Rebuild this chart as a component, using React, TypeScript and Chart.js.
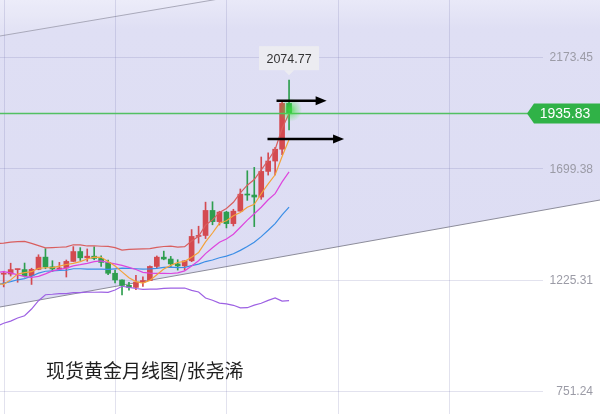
import React, { useEffect, useRef } from "react";
import { Chart, registerables } from "chart.js";

Chart.register(...registerables);

// Monthly spot gold candles, Feb 2017 (just off the left edge) to Aug 2020
const months = [
  "2017-02", "2017-03", "2017-04", "2017-05", "2017-06", "2017-07", "2017-08", "2017-09", "2017-10", "2017-11", "2017-12",
  "2018-01", "2018-02", "2018-03", "2018-04", "2018-05", "2018-06", "2018-07", "2018-08", "2018-09", "2018-10", "2018-11", "2018-12",
  "2019-01", "2019-02", "2019-03", "2019-04", "2019-05", "2019-06", "2019-07", "2019-08", "2019-09", "2019-10", "2019-11", "2019-12",
  "2020-01", "2020-02", "2020-03", "2020-04", "2020-05", "2020-06", "2020-07", "2020-08",
];
const opens = [
  1210.8, 1248.5, 1249.2, 1268.2, 1268.3, 1241.6, 1269.1, 1321.3, 1280.0, 1270.9, 1275.1,
  1303.1, 1345.1, 1318.4, 1325.3, 1315.7, 1298.9, 1252.6, 1224.1, 1201.1, 1192.4, 1215.0, 1221.7,
  1281.7, 1321.2, 1313.1, 1292.3, 1283.8, 1305.6, 1409.4, 1413.5, 1520.1, 1472.5, 1513.0, 1464.0,
  1517.0, 1589.2, 1585.7, 1577.2, 1686.3, 1730.5, 1780.9, 1975.8,
];
const highs = [
  1264.0, 1261.1, 1295.4, 1270.2, 1296.1, 1274.0, 1331.4, 1357.6, 1306.0, 1299.0, 1309.0,
  1366.1, 1361.7, 1356.2, 1365.3, 1326.3, 1309.1, 1265.9, 1225.0, 1214.2, 1243.4, 1237.3, 1284.7,
  1326.3, 1346.8, 1324.3, 1310.3, 1306.0, 1438.6, 1452.9, 1555.4, 1557.1, 1516.7, 1516.1, 1525.1,
  1611.4, 1689.0, 1703.4, 1747.7, 1765.3, 1789.0, 1983.7, 2074.77,
];
const lows = [
  1200.0, 1194.5, 1240.8, 1214.3, 1236.5, 1204.9, 1267.3, 1271.9, 1260.6, 1264.1, 1236.6,
  1302.6, 1307.0, 1303.6, 1310.1, 1281.4, 1246.2, 1211.1, 1160.4, 1180.6, 1182.6, 1196.2, 1221.4,
  1275.9, 1309.9, 1280.8, 1266.2, 1266.1, 1301.9, 1381.0, 1400.3, 1459.0, 1458.0, 1445.7, 1454.0,
  1517.0, 1563.0, 1451.2, 1567.5, 1670.6, 1671.0, 1757.5, 1863.2,
];
const closes = [
  1248.5, 1249.2, 1268.2, 1268.3, 1241.6, 1269.1, 1321.3, 1280.0, 1270.9, 1275.1, 1303.1,
  1345.1, 1318.4, 1325.3, 1315.7, 1298.9, 1252.6, 1224.1, 1201.1, 1192.4, 1215.0, 1221.7, 1281.7,
  1321.2, 1313.1, 1292.3, 1283.8, 1305.6, 1409.4, 1413.5, 1520.1, 1472.5, 1513.0, 1464.0, 1517.0,
  1589.2, 1585.7, 1577.2, 1686.3, 1730.5, 1780.9, 1975.8, 1935.83,
];

// Indicator lines as read/estimated from the chart
const ma5 = [
  1210, 1205.4, 1224.4, 1248.8, 1255, 1259.2, 1273.6, 1276, 1276.6, 1283.2, 1290,
  1294.8, 1302.4, 1313.2, 1321.4, 1320.6, 1302.2, 1283.4, 1258.6, 1233.8, 1217, 1210.8, 1222.4,
  1246.4, 1270.6, 1286, 1298.4, 1303.2, 1320.8, 1340.8, 1386.4, 1424, 1465.4, 1476.4, 1497.2,
  1511, 1533.8, 1546.6, 1591, 1633.6, 1672, 1750, 1821.8,
];
const ma10 = [
  1256.1, 1259.6, 1254.3, 1246, 1239.3, 1234.6, 1239.5, 1250.2, 1262.7, 1269.1, 1274.6,
  1284.2, 1289.2, 1294.9, 1302.3, 1305.3, 1298.5, 1292.9, 1285.9, 1277.6, 1268.8, 1256.5, 1252.9,
  1252.5, 1252.2, 1251.5, 1254.6, 1262.8, 1283.6, 1305.7, 1336.2, 1361.2, 1384.3, 1398.6, 1419,
  1448.7, 1478.9, 1506, 1533.7, 1565.4, 1591.5, 1641.9, 1684.2,
];
const ma20 = [
  1202.6, 1210.3, 1217.1, 1224.8, 1229.8, 1240.0, 1253.0, 1261.1, 1262.7, 1264.8, 1265.4,
  1271.9, 1271.8, 1270.5, 1270.8, 1270.0, 1269.0, 1271.6, 1274.3, 1273.4, 1271.7, 1270.4, 1271.1,
  1273.7, 1277.3, 1278.4, 1276.6, 1277.9, 1284.8, 1291.7, 1302.5, 1308.9, 1318.6, 1325.6, 1335.6,
  1350.1, 1366.8, 1384.4, 1408.7, 1435.6, 1463.9, 1501.6, 1534.3,
];
const bollUpper = [
  1379.0, 1380.6, 1385.2, 1387.4, 1388.0, 1379.6, 1370.2, 1361.0, 1362.1, 1363.4, 1364.7,
  1374.0, 1373.6, 1368.8, 1369.8, 1367.6, 1367.0, 1361.7, 1351.4, 1353.9, 1355.6, 1356.5, 1357.3,
  1362.7, 1366.5, 1367.8, 1363.9, 1366.1, 1389.8, 1410.4, 1457.6, 1479.9, 1511.5, 1528.6, 1555.0,
  1594.8, 1627.5, 1651.8, 1692.6, 1733.9, 1780.0, 1869.0, 1932.8,
];
const bollLower = [
  1026.2, 1040.0, 1049.0, 1062.1, 1071.5, 1100.3, 1135.7, 1161.2, 1163.3, 1166.2, 1166.1,
  1169.8, 1169.9, 1172.1, 1171.8, 1172.3, 1171.0, 1181.4, 1197.2, 1192.8, 1187.8, 1184.2, 1184.8,
  1184.7, 1188.0, 1189.0, 1189.2, 1189.6, 1179.7, 1172.9, 1147.4, 1137.8, 1125.7, 1122.5, 1116.2,
  1105.4, 1106.0, 1117.0, 1124.7, 1137.2, 1147.7, 1134.1, 1135.7,
];

// Rising channel (two parallel trend lines), anchored at month positions
const channelX = [-1, 86];
const channelLower = [1106.5, 1566.3];
const channelUpper = [2260.6, 2696.4];

// Hand-drawn arrows: start month, end month, price
const arrowFrom = [39.2, 37.9];
const arrowTo = [46.4, 48.9];
const arrowPrice = [1987.4, 1824.3];

// Axis
const yTicks = [2173.45, 1699.38, 1225.31, 751.24];
const xGridMonths = [0, 16, 32, 48, 64];
const titleText = "现货黄金月线图/张尧浠";

const UP = "#d44a50";
const DOWN = "#2e9e4f";

export default function App() {
  const ref = useRef<HTMLCanvasElement | null>(null);

  useEffect(() => {
    if (!ref.current) return;
    const pos = months.map((_, i) => i - 1);
    const candleColors = closes.map((c, i) => (c >= opens[i] ? UP : DOWN));
    const last = closes.length - 1;

    const lavender = (ctx: any) => {
      const chart = ctx.chart;
      const area = chart.chartArea;
      if (!area) return "rgb(222,222,243)";
      const g = chart.ctx.createLinearGradient(0, area.top, 0, area.bottom);
      g.addColorStop(0, "rgb(233,233,248)");
      g.addColorStop(0.07, "rgb(223,223,244)");
      g.addColorStop(1, "rgb(220,220,243)");
      return g;
    };

    const linePts = (arr: number[]) => arr.map((v, i) => ({ x: pos[i], y: v }));
    const mkLine = (arr: number[], color: string, order: number) => ({
      type: "line" as const,
      data: linePts(arr),
      borderColor: color,
      borderWidth: 1.2,
      pointRadius: 0,
      tension: 0,
      fill: false,
      order,
    });

    const gridPlugin = {
      id: "gridAndLabels",
      beforeDraw(chart: any) {
        const c = chart.ctx;
        c.save();
        c.fillStyle = "#ffffff";
        c.fillRect(0, 0, chart.width, chart.height);
        c.restore();
      },
      afterDatasetDraw(chart: any, args: any) {
        if (args.index !== 1) return;
        const c = chart.ctx;
        const area = chart.chartArea;
        const xs = chart.scales.x;
        const ys = chart.scales.y;
        c.save();
        c.lineWidth = 1;
        c.strokeStyle = "rgba(110,110,170,0.2)";
        xGridMonths.forEach((m) => {
          const x = Math.round(xs.getPixelForValue(m)) + 0.5;
          c.beginPath();
          c.moveTo(x, area.top);
          c.lineTo(x, area.bottom);
          c.stroke();
        });
        yTicks.forEach((t) => {
          const y = Math.round(ys.getPixelForValue(t)) + 0.5;
          c.beginPath();
          c.moveTo(area.left, y);
          c.lineTo(area.right - 57, y);
          c.stroke();
        });
        c.fillStyle = "#9b9ba6";
        c.font = "12px 'Liberation Sans', Arial, sans-serif";
        c.textAlign = "right";
        c.textBaseline = "middle";
        yTicks.forEach((t) => {
          c.fillText(t.toFixed(2), area.right - 7, ys.getPixelForValue(t) + 1);
        });
        c.restore();
      },
      afterDatasetsDraw(chart: any) {
        const c = chart.ctx;
        const area = chart.chartArea;
        const xs = chart.scales.x;
        const ys = chart.scales.y;
        const lastX = xs.getPixelForValue(pos[last]);
        const lastY = ys.getPixelForValue(closes[last]);
        c.save();

        // current price line
        const py = Math.round(lastY) + 0.5;
        c.strokeStyle = "rgb(82,192,98)";
        c.lineWidth = 1.6;
        c.beginPath();
        c.moveTo(area.left, py);
        c.lineTo(area.right - 70, py);
        c.stroke();

        // glow on last candle
        const g = c.createRadialGradient(lastX + 1, lastY - 3, 0, lastX + 1, lastY - 3, 12);
        g.addColorStop(0, "rgba(60,225,60,0.85)");
        g.addColorStop(0.5, "rgba(60,225,60,0.35)");
        g.addColorStop(1, "rgba(60,225,60,0)");
        c.fillStyle = g;
        c.beginPath();
        c.arc(lastX + 1, lastY - 3, 12, 0, Math.PI * 2);
        c.fill();

        // price tag
        const tipX = area.right - 73;
        c.fillStyle = "#30b247";
        c.beginPath();
        c.moveTo(tipX, py);
        c.lineTo(tipX + 7, py - 10);
        c.lineTo(area.right, py - 10);
        c.lineTo(area.right, py + 10);
        c.lineTo(tipX + 7, py + 10);
        c.closePath();
        c.fill();
        c.fillStyle = "#ffffff";
        c.font = "14px 'Liberation Sans', Arial, sans-serif";
        c.textAlign = "center";
        c.textBaseline = "middle";
        c.fillText(closes[last].toFixed(2), tipX + 38, py + 1);

        // high label
        const hy = ys.getPixelForValue(highs[last]);
        const bw = 60;
        const bh = 24;
        const bottom = hy - 10;
        c.fillStyle = "#ececf1";
        c.fillRect(lastX - bw / 2, bottom - bh, bw, bh);
        c.beginPath();
        c.moveTo(lastX - 5, bottom);
        c.lineTo(lastX + 5, bottom);
        c.lineTo(lastX, bottom + 5);
        c.closePath();
        c.fill();
        c.fillStyle = "#333333";
        c.font = "12.5px 'Liberation Sans', Arial, sans-serif";
        c.fillText(highs[last].toFixed(2), lastX, bottom - bh / 2 + 1);

        // arrows
        c.strokeStyle = "#000000";
        c.fillStyle = "#000000";
        c.lineWidth = 2.4;
        arrowPrice.forEach((p, i) => {
          const y = ys.getPixelForValue(p);
          const x0 = xs.getPixelForValue(arrowFrom[i]);
          const x1 = xs.getPixelForValue(arrowTo[i]);
          c.beginPath();
          c.moveTo(x0, y);
          c.lineTo(x1 - 9, y);
          c.stroke();
          c.beginPath();
          c.moveTo(x1, y);
          c.lineTo(x1 - 11, y - 4.5);
          c.lineTo(x1 - 11, y + 4.5);
          c.closePath();
          c.fill();
        });
        c.restore();
      },
    };

    const chart = new Chart(ref.current, {
      type: "bar",
      data: {
        datasets: [
          {
            type: "line",
            data: channelX.map((x, i) => ({ x, y: channelLower[i] })),
            borderColor: "#8d8d9b",
            borderWidth: 1,
            pointRadius: 0,
            fill: "end",
            backgroundColor: lavender,
            order: 20,
          } as any,
          {
            type: "line",
            data: channelX.map((x, i) => ({ x, y: channelUpper[i] })),
            borderColor: "#a9a9ba",
            borderWidth: 1,
            pointRadius: 0,
            fill: "end",
            backgroundColor: "rgba(255,255,255,0.15)",
            order: 19,
          } as any,
          {
            type: "bar",
            data: months.map((_, i) => ({ x: pos[i], y: [lows[i], highs[i]] })),
            backgroundColor: candleColors,
            barThickness: 1,
            grouped: false,
            borderWidth: 0,
            order: 8,
          } as any,
          {
            type: "bar",
            data: months.map((_, i) => ({ x: pos[i], y: [opens[i], closes[i]] })),
            backgroundColor: candleColors,
            barThickness: 5,
            minBarLength: 1,
            grouped: false,
            borderWidth: 0,
            order: 7,
          } as any,
          mkLine(bollLower, "#9d61e3", 5) as any,
          mkLine(ma20, "#3b8ee6", 4) as any,
          mkLine(bollUpper, "#d95f5f", 3) as any,
          mkLine(ma10, "#dd45dd", 2) as any,
          mkLine(ma5, "#f3a23a", 1) as any,
        ],
      },
      options: {
        responsive: false,
        maintainAspectRatio: false,
        animation: false,
        events: [],
        layout: { padding: 0 },
        plugins: {
          legend: { display: false },
          tooltip: { enabled: false },
          title: { display: false },
        },
        scales: {
          x: {
            type: "linear",
            display: false,
            offset: false,
            min: -0.532,
            max: 85.675,
          },
          y: {
            type: "linear",
            display: false,
            min: 653.3,
            max: 2416.2,
          },
        },
      } as any,
      plugins: [gridPlugin],
    });
    return () => chart.destroy();
  }, []);

  return (
    <div
      style={{
        position: "absolute",
        left: 0,
        top: 0,
        width: 600,
        height: 414,
        overflow: "hidden",
        background: "#ffffff",
      }}
    >
      <canvas ref={ref} width={600} height={414} style={{ display: "block", width: 600, height: 414 }} />
      <div
        style={{
          position: "absolute",
          left: 46,
          top: 360,
          fontFamily: "'Noto Sans CJK SC', sans-serif",
          fontSize: 19,
          lineHeight: "19px",
          color: "#1f1f1f",
          whiteSpace: "nowrap",
        }}
      >
        {titleText}
      </div>
    </div>
  );
}
